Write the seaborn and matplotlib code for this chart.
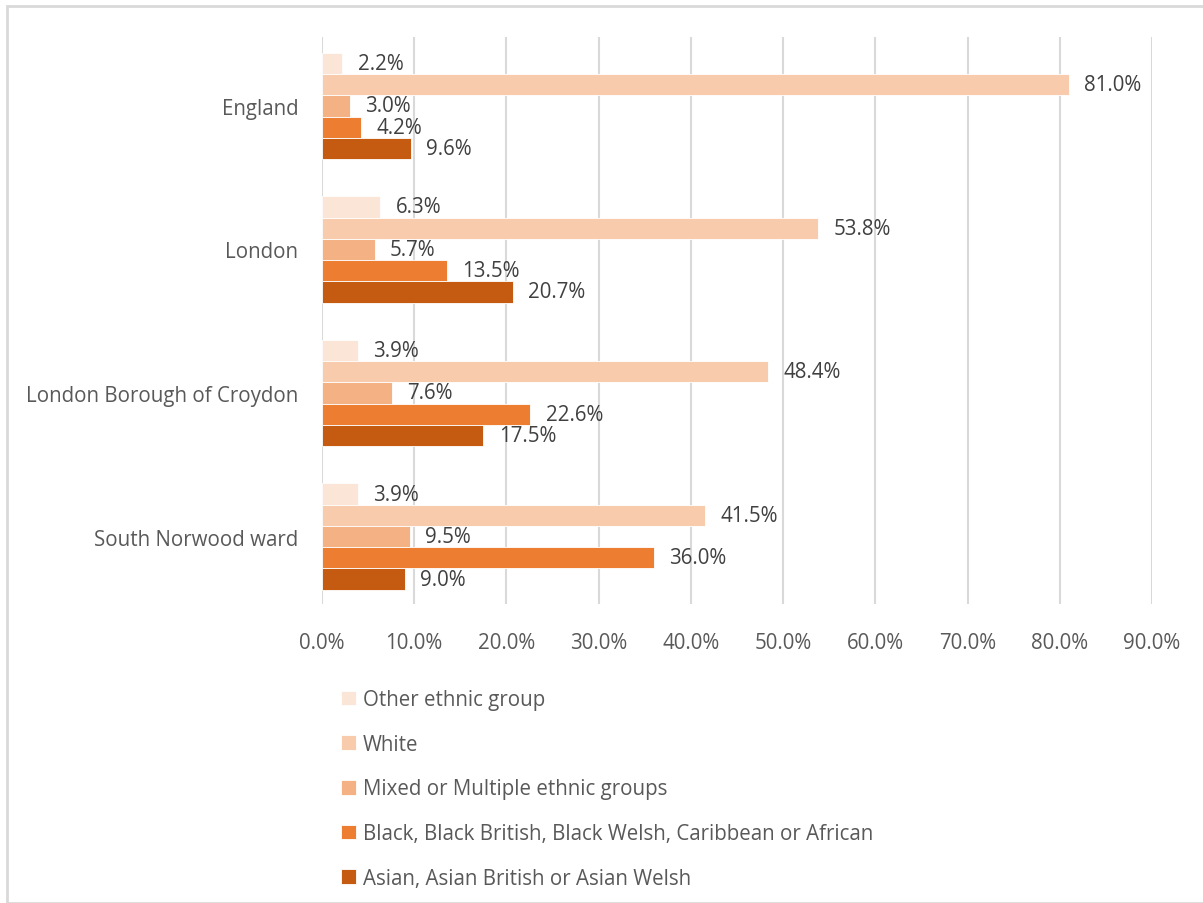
import matplotlib
matplotlib.use("Agg")
import matplotlib.pyplot as plt
import seaborn as sns
import pandas as pd
from matplotlib.patches import Rectangle

areas = ["England", "London", "London Borough of Croydon", "South Norwood ward"]
groups = ["Other ethnic group", "White", "Mixed or Multiple ethnic groups",
          "Black, Black British, Black Welsh, Caribbean or African",
          "Asian, Asian British or Asian Welsh"]
other = [2.2, 6.3, 3.9, 3.9]
white = [81.0, 53.8, 48.4, 41.5]
mixed = [3.0, 5.7, 7.6, 9.5]
black = [4.2, 13.5, 22.6, 36.0]
asian = [9.6, 20.7, 17.5, 9.0]
colors = ["#FBE5D6", "#F8CBAD", "#F4B183", "#ED7D31", "#C55A11"]
xticks = [0, 10, 20, 30, 40, 50, 60, 70, 80, 90]

rows = []
for g, vals in zip(groups, [other, white, mixed, black, asian]):
    for a, v in zip(areas, vals):
        rows.append({"area": a, "group": g, "value": v})
df = pd.DataFrame(rows)

sns.set_theme(style="white")
plt.rcParams['font.family'] = ['Open Sans', 'DejaVu Sans']
FS = 14.8

fig = plt.figure(figsize=(12.03, 9.04), dpi=100)
ax = fig.add_axes([322/1203, 1-605/904, (1152-322)/1203, (605-38)/904])

sns.barplot(data=df, y="area", x="value", hue="group", order=areas,
            hue_order=groups, palette=colors, orient="h", width=0.74,
            saturation=1, ax=ax, legend=True, errorbar=None,
            edgecolor="white", linewidth=0.6)

for cont in ax.containers:
    ax.bar_label(cont, fmt="%.1f%%", padding=11, fontsize=FS, color="#404040")

ax.set_xlim(0, 90)
ax.set_ylim(3.47, -0.48)
ax.set_xticks(xticks)
ax.set_xticklabels([f"{t:.1f}%" for t in xticks])
ax.set_xlabel("")
ax.set_ylabel("")
ax.grid(axis="x", color="#D9D9D9", linewidth=1.5)
ax.set_axisbelow(True)
for s in ax.spines.values():
    s.set_visible(False)
ax.tick_params(axis="x", length=0, pad=20, labelsize=FS, labelcolor="#595959")
ax.tick_params(axis="y", length=0, pad=17, labelsize=FS, labelcolor="#595959")

handles, labels = ax.get_legend_handles_labels()
ax.legend_.remove()
fig.legend(handles, labels, loc="upper left", bbox_to_anchor=(333/1203, 1-682/904),
           frameon=False, ncol=1, fontsize=FS, labelcolor="#595959",
           handlelength=0.7, handleheight=0.7, handletextpad=0.35,
           labelspacing=1.15, borderaxespad=0)

fig.patches.append(Rectangle((7/1203, 0), 1.2, 1-7/904, transform=fig.transFigure,
                             fill=False, edgecolor="#D9D9D9", linewidth=2))

fig.savefig("out.png", dpi=100, facecolor="white")
